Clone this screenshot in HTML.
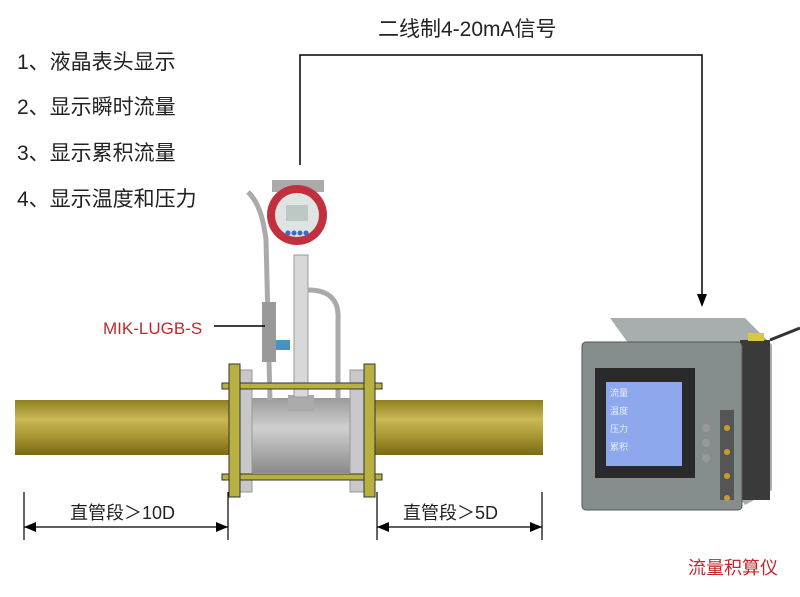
<!DOCTYPE html>
<html><head><meta charset="utf-8"><style>
body{margin:0;background:#fff;}
svg{display:block;font-family:"Liberation Sans","Noto Sans CJK SC",sans-serif;}
</style></head><body>
<svg width="800" height="597" viewBox="0 0 800 597" xmlns="http://www.w3.org/2000/svg">
<defs>
<linearGradient id="pipe" x1="0" y1="0" x2="0" y2="1">
<stop offset="0" stop-color="#8f7f1f"/><stop offset="0.35" stop-color="#c9b856"/><stop offset="0.6" stop-color="#b09e38"/><stop offset="1" stop-color="#7a6a15"/>
</linearGradient>
<linearGradient id="body" x1="0" y1="0" x2="0" y2="1">
<stop offset="0" stop-color="#9a9a9a"/><stop offset="0.4" stop-color="#d0d0d0"/><stop offset="1" stop-color="#8a8a8a"/>
</linearGradient>
</defs>
<g font-size="21" fill="#222">
<text x="17" y="69">1、液晶表头显示</text>
<text x="17" y="114">2、显示瞬时流量</text>
<text x="17" y="160">3、显示累积流量</text>
<text x="17" y="206">4、显示温度和压力</text>
</g>
<text x="378" y="36" font-size="21" fill="#222">二线制4-20mA信号</text>
<polyline points="300,165 300,55 702,55 702,305" fill="none" stroke="#000" stroke-width="1.5"/>
<path d="M697,294 L702,307 L707,294 Z" fill="#000"/>
<rect x="15" y="400" width="528" height="55" fill="url(#pipe)"/>
<rect x="250" y="398" width="102" height="75" fill="url(#body)"/>
<rect x="238" y="370" width="14" height="122" fill="#c8c8c8" stroke="#999"/>
<rect x="350" y="370" width="14" height="122" fill="#c8c8c8" stroke="#999"/>
<rect x="288" y="395" width="26" height="16" fill="#aaa"/>
<rect x="294" y="255" width="14" height="142" fill="#d8d8d8" stroke="#999"/>
<path d="M308,290 Q340,290 338,320 L338,398" fill="none" stroke="#aaa" stroke-width="5"/>
<path d="M248,192 Q262,205 266,240 L270,400" fill="none" stroke="#aaa" stroke-width="5"/>
<rect x="262" y="302" width="14" height="60" fill="#999"/>
<rect x="276" y="340" width="14" height="10" fill="#4a90c0"/>
<rect x="272" y="180" width="52" height="12" fill="#aaa"/>
<circle cx="297" cy="215" r="30" fill="#c23040"/>
<circle cx="297" cy="215" r="22" fill="#dde4e2"/>
<rect x="286" y="205" width="22" height="16" fill="#bcc8c4"/>
<circle cx="288" cy="233" r="2.5" fill="#3a6ad0"/><circle cx="294" cy="233" r="2.5" fill="#3a6ad0"/><circle cx="300" cy="233" r="2.5" fill="#3a6ad0"/><circle cx="306" cy="233" r="2.5" fill="#3a6ad0"/>
<rect x="222" y="383" width="160" height="6" fill="#b8b040" stroke="#333" stroke-width="1"/>
<rect x="222" y="474" width="160" height="6" fill="#b8b040" stroke="#333" stroke-width="1"/>
<rect x="229" y="364" width="11" height="133" fill="#b8b040" stroke="#333" stroke-width="1"/>
<rect x="364" y="364" width="11" height="133" fill="#b8b040" stroke="#333" stroke-width="1"/>
<text x="103" y="334" font-size="17" fill="#c0282e">MIK-LUGB-S</text>
<line x1="214" y1="326" x2="265" y2="326" stroke="#000" stroke-width="1.5"/>
<g stroke="#000" stroke-width="1.2">
<line x1="24" y1="492" x2="24" y2="540"/><line x1="228" y1="492" x2="228" y2="540"/>
<line x1="24" y1="527" x2="228" y2="527"/>
<line x1="377" y1="492" x2="377" y2="540"/><line x1="542" y1="492" x2="542" y2="540"/>
<line x1="377" y1="527" x2="542" y2="527"/>
</g>
<path d="M24,527 L36,522 L36,532 Z M228,527 L216,522 L216,532 Z M377,527 L389,522 L389,532 Z M542,527 L530,522 L530,532 Z" fill="#000"/>
<text x="70" y="519" font-size="18" fill="#222">直管段＞10D</text>
<text x="403" y="519" font-size="18" fill="#222">直管段＞5D</text>
<path d="M610,318 L745,318 L772,345 L772,490 L745,505 Z" fill="#a8aeae"/>
<rect x="740" y="340" width="30" height="160" fill="#3a3a3a"/>
<rect x="582" y="342" width="160" height="168" rx="4" fill="#858d8d" stroke="#555"/>
<rect x="595" y="368" width="100" height="110" fill="#2a2a2a"/>
<rect x="606" y="382" width="76" height="84" fill="#8ea8ee"/>
<g font-size="9" fill="#e8eeff"><text x="610" y="396">流量</text><text x="610" y="414">温度</text><text x="610" y="432">压力</text><text x="610" y="450">累积</text></g>
<rect x="720" y="410" width="14" height="90" fill="#555"/>
<g fill="#999"><circle cx="706" cy="428" r="4"/><circle cx="706" cy="443" r="4"/><circle cx="706" cy="458" r="4"/></g>
<g fill="#c99a30"><circle cx="727" cy="428" r="3"/><circle cx="727" cy="452" r="3"/><circle cx="727" cy="476" r="3"/><circle cx="727" cy="498" r="3"/></g>
<path d="M770,340 L800,328" stroke="#333" stroke-width="3"/>
<rect x="748" y="333" width="16" height="8" fill="#d8c840"/>
<text x="688" y="574" font-size="18" fill="#c0282e">流量积算仪</text>
</svg>
</body></html>
